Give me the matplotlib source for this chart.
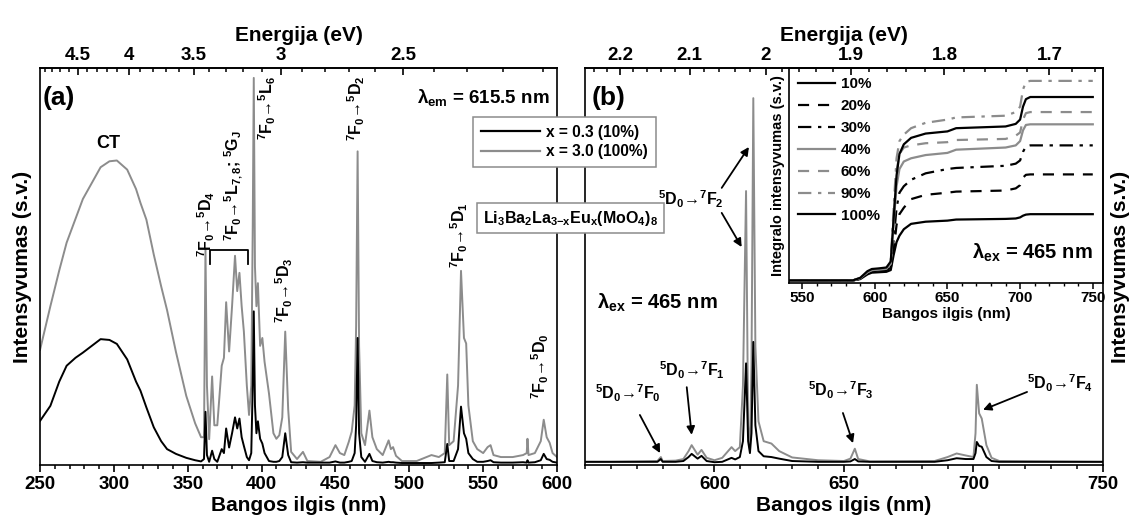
import numpy as np
import matplotlib
matplotlib.use('Agg')
import matplotlib.pyplot as plt
from matplotlib.ticker import FixedLocator, MultipleLocator, FuncFormatter
from matplotlib.lines import Line2D

plt.rcParams['font.family'] = ['Liberation Sans', 'DejaVu Sans']
plt.rcParams['font.weight'] = 'bold'
plt.rcParams['axes.labelweight'] = 'bold'
plt.rcParams['mathtext.fontset'] = 'custom'
plt.rcParams['mathtext.rm'] = 'Liberation Sans:bold'
plt.rcParams['mathtext.bf'] = 'Liberation Sans:bold'
plt.rcParams['mathtext.it'] = 'Liberation Sans:bold'
plt.rcParams['mathtext.default'] = 'bf'

GRAY = '#8c8c8c'

# --- (a) excitation spectra, lambda_em = 615.5 nm ---
wl_exc = [250, 257, 263, 268, 274, 279, 285, 291, 297, 302, 309, 315, 318, 322, 327,
          332, 336, 342, 349, 355, 359, 361, 362, 363, 364.5, 366.5, 368, 370, 373,
          374.5, 376, 378, 380, 382, 383.5, 385, 386.5, 388, 390, 391.5, 393, 394,
          394.7, 395.5, 396.5, 397.5, 399, 400.5, 402, 405, 408, 410, 412, 414, 416,
          418, 420, 424, 428, 431, 440, 446, 450, 453, 456, 459, 461, 463, 464, 465,
          466, 467.5, 470, 473, 475, 478, 482, 486, 487.5, 489, 491, 495, 505, 515,
          520, 524, 525.7, 527, 530, 533, 535, 537, 538.5, 540, 543, 546, 550, 553,
          555, 557, 562, 570, 577, 579.5, 580, 580.7, 585, 589, 591, 593, 595, 597, 600]
exc_10 = [11.1, 14.9, 21, 25, 27, 28.3, 30, 31.7, 31.5, 30.5, 26.6, 21, 18.7, 14.5, 9.5,
          6, 4, 2.8, 1.8, 1.2, 0.9, 1.5, 13.4, 2.5, 0.8, 3.6, 1.5, 0.8, 4,
          3, 9.2, 4.4, 8, 12, 9.2, 11.7, 7, 4.8, 2, 1.2, 3, 20,
          38.7, 15, 8, 11, 6.6, 5.4, 3, 1, 0.8, 0.8, 1, 2, 8,
          2.5, 0.7, 0.6, 0.7, 0.6, 0.6, 0.6, 0.9, 0.6, 0.6, 0.8, 1, 3, 10, 32,
          8, 2, 0.8, 2.8, 1, 0.7, 0.6, 0.8, 0.7, 0.7, 0.6, 0.5, 0.5, 0.5,
          0.6, 0.7, 5.3, 1, 1, 4, 14.7, 8, 6.6, 3, 1.5, 0.8, 0.8, 1,
          1.2, 0.7, 0.6, 0.6, 0.7, 0.6, 1.2, 0.6, 0.7, 1.2, 2.8, 1.5, 1.3, 0.8, 0.6]
exc_100 = [29, 40, 49, 56, 62, 67, 71, 75, 76.5, 76.7, 74.4, 69.5, 66, 61.8, 53,
           45, 39, 28.5, 17.4, 10.5, 7, 7, 54.4, 20, 6.5, 22.3, 10, 10, 25,
           27, 41, 28.6, 40, 52.7, 43.8, 48.4, 40, 33.6, 20, 12.6, 20, 60,
           97.5, 50, 40, 45.8, 30, 32, 26, 18, 8, 6.6, 7.5, 12, 33.6,
           14, 3.3, 1.5, 3.3, 1, 0.8, 2, 5, 3, 2.5, 5.8, 8.4, 15, 35, 79,
           30, 8, 5, 13.7, 7, 4, 2.5, 6.2, 4, 4.5, 2.3, 1, 1, 2.5,
           2, 3, 22.8, 5, 6, 20, 48.9, 32, 30.6, 15, 6, 4, 3, 4.5,
           5, 2.5, 2, 2, 2.5, 3, 6.6, 2.5, 3, 6, 11.4, 7, 5.6, 3, 2]

# --- (b) emission spectra, lambda_ex = 465 nm ---
wl_em = [550, 560, 570, 578, 579.3, 580, 585, 588, 590, 591.2, 593.5, 595, 597, 600,
         603, 606.6, 608, 609.8, 611, 612.2, 613, 613.7, 614.3, 615, 615.8, 617, 619,
         622, 625, 630, 640, 650, 652.5, 654.2, 655.5, 660, 685, 690, 693.5, 697, 700,
         700.8, 701.3, 702.2, 703.2, 705, 707, 710, 750]
em_10 = [0.8, 0.8, 0.8, 0.8, 1.5, 0.8, 0.8, 1, 2, 2.8, 1.6, 2.3, 1, 0.7,
         0.8, 1.8, 1.4, 2, 6, 25.6, 6, 3, 8, 31, 10, 3.5, 2.2,
         2, 1.6, 1, 0.8, 0.8, 0.9, 1.5, 0.9, 0.8, 0.8, 1.2, 1.7, 1.5, 1.5,
         3, 5.8, 4.8, 4.6, 2, 1, 0.8, 0.8]
em_100 = [0.8, 0.8, 0.9, 1, 2, 1, 1.1, 1.5, 3.5, 5, 2.6, 3.8, 1.8, 1.2,
          1.8, 4.5, 3.5, 4.5, 20, 69, 10, 4, 25, 92.4, 30, 11, 6,
          5.4, 3.5, 1.9, 1.2, 1, 1.6, 4.1, 1.5, 0.9, 1, 2, 2.9, 2.4, 2,
          8, 20.2, 13, 11.7, 5, 1.8, 1, 0.8]

# --- inset: integrated intensity ---
wl_int = [540, 585, 590, 595, 598, 603, 608, 611, 613, 615, 617, 620, 625, 635, 650,
          656, 690, 697, 700, 702, 704, 707, 750]
int_labels = ['10%', '20%', '30%', '40%', '60%', '90%', '100%']
int_10 = [0.012, 0.012, 0.018, 0.04, 0.048, 0.05, 0.052, 0.06, 0.13, 0.19, 0.22, 0.25,
          0.275, 0.285, 0.29, 0.295, 0.298, 0.30, 0.305, 0.313, 0.318, 0.32, 0.32]
int_20 = [0.012, 0.012, 0.02, 0.045, 0.055, 0.057, 0.06, 0.07, 0.15, 0.27, 0.32, 0.35,
          0.39, 0.41, 0.42, 0.425, 0.43, 0.44, 0.455, 0.49, 0.503, 0.505, 0.505]
int_30 = [0.012, 0.012, 0.02, 0.045, 0.055, 0.058, 0.062, 0.075, 0.2, 0.35, 0.42, 0.45,
          0.48, 0.51, 0.53, 0.535, 0.545, 0.555, 0.57, 0.61, 0.635, 0.64, 0.64]
int_40 = [0.012, 0.012, 0.022, 0.05, 0.06, 0.062, 0.066, 0.09, 0.28, 0.45, 0.53, 0.565,
          0.58, 0.595, 0.605, 0.62, 0.63, 0.64, 0.66, 0.71, 0.735, 0.738, 0.738]
int_60 = [0.012, 0.012, 0.022, 0.05, 0.06, 0.063, 0.068, 0.09, 0.3, 0.52, 0.6, 0.63,
          0.64, 0.65, 0.655, 0.665, 0.67, 0.685, 0.7, 0.76, 0.79, 0.795, 0.795]
int_90 = [0.012, 0.012, 0.024, 0.052, 0.062, 0.065, 0.07, 0.1, 0.35, 0.58, 0.66, 0.69,
          0.72, 0.745, 0.76, 0.77, 0.778, 0.795, 0.82, 0.9, 0.935, 0.94, 0.94]
int_100 = [0.012, 0.012, 0.024, 0.055, 0.065, 0.068, 0.072, 0.1, 0.3, 0.5, 0.6, 0.645,
           0.675, 0.695, 0.705, 0.72, 0.728, 0.74, 0.76, 0.82, 0.855, 0.865, 0.865]

HC = 1239.84


def nm_ev(x):
    x = np.asarray(x, dtype=float)
    with np.errstate(divide='ignore', invalid='ignore'):
        return HC / x


def style_axes(ax):
    for s in ax.spines.values():
        s.set_linewidth(1.2)
    ax.set_yticks([])
    ax.xaxis.set_minor_locator(MultipleLocator(10))
    ax.tick_params(axis='x', which='major', direction='out', length=5, width=1.2,
                   labelsize=13.5, pad=3)
    ax.tick_params(axis='x', which='minor', direction='out', length=3, width=1.1)
    ax.set_ylim(0, 100)


def energy_axis(ax, major, minor):
    sec = ax.secondary_xaxis('top', functions=(nm_ev, nm_ev))
    sec.set_xticks(major)
    sec.xaxis.set_minor_locator(FixedLocator(minor))
    sec.xaxis.set_major_formatter(FuncFormatter(lambda v, p: '%g' % v))
    sec.tick_params(which='major', direction='in', length=5, width=1.2, labelsize=13.5, pad=3)
    sec.tick_params(which='minor', direction='in', length=3, width=1.1)
    sec.spines['top'].set_linewidth(1.2)
    sec.set_xlabel('Energija (eV)', fontsize=15, labelpad=4)
    return sec


fig = plt.figure(figsize=(11.31, 5.25), dpi=100)
ax1 = fig.add_axes([0.0354, 0.1143, 0.4571, 0.7562])
ax2 = fig.add_axes([0.5172, 0.1143, 0.458, 0.7562])

# panel (a)
ax1.plot(wl_exc, exc_100, color=GRAY, lw=1.4)
ax1.plot(wl_exc, exc_10, color='k', lw=1.4)
ax1.set_xlim(250, 600)
style_axes(ax1)
ax1.xaxis.set_major_locator(MultipleLocator(50))
ax1.set_xlabel('Bangos ilgis (nm)', fontsize=15, labelpad=2)
ax1.set_ylabel('Intensyvumas (s.v.)', fontsize=15, labelpad=6)
energy_axis(ax1, [4.5, 4, 3.5, 3, 2.5], np.arange(2.1, 5.0, 0.1))

ax1.text(252, 92.5, '(a)', fontsize=19, ha='left', va='center')
ax1.text(595, 92.5, r'λ$_{em}$ = 615.5 nm', fontsize=13.5, ha='right', va='center')
ax1.text(296, 81, 'CT', fontsize=13, ha='center', va='center')
fa = 11.5
ax1.text(362.5, 60.7, r'$^7$F$_0$→$^5$D$_4$', rotation=90, fontsize=fa,
         ha='center', va='center')
ax1.text(381, 70.3, r'$^7$F$_0$→$^5$L$_{7,8}$; $^5$G$_J$', rotation=90,
         fontsize=fa, ha='center', va='center')
ax1.plot([365, 365, 390.7, 390.7], [50.6, 54.2, 54.2, 50.6], color='k', lw=1.3)
ax1.text(404, 90, r'$^7$F$_0$→$^5$L$_6$', rotation=90, fontsize=fa,
         ha='center', va='center')
ax1.text(415.5, 44, r'$^7$F$_0$→$^5$D$_3$', rotation=90, fontsize=fa,
         ha='center', va='center')
ax1.text(464.2, 90, r'$^7$F$_0$→$^5$D$_2$', rotation=90, fontsize=fa,
         ha='center', va='center')
ax1.text(534, 58, r'$^7$F$_0$→$^5$D$_1$', rotation=90, fontsize=fa,
         ha='center', va='center')
ax1.text(588.5, 25, r'$^7$F$_0$→$^5$D$_0$', rotation=90, fontsize=fa,
         ha='center', va='center')

# panel (b)
ax2.plot(wl_em, em_100, color=GRAY, lw=1.4)
ax2.plot(wl_em, em_10, color='k', lw=1.4)
ax2.set_xlim(550, 750)
style_axes(ax2)
ax2.xaxis.set_major_locator(FixedLocator([600, 650, 700, 750]))
ax2.set_xlabel('Bangos ilgis (nm)', fontsize=15, labelpad=2)
ax2.yaxis.set_label_position('right')
ax2.set_ylabel('Intensyvumas (s.v.)', fontsize=15, labelpad=6)
energy_axis(ax2, [2.2, 2.1, 2, 1.9, 1.8, 1.7], np.arange(1.66, 2.27, 0.02))

ax2.text(552.7, 92.5, '(b)', fontsize=19, ha='left', va='center')
ax2.text(554.6, 40.8, r'λ$_{ex}$ = 465 nm', fontsize=14.5, ha='left', va='center')

arr = dict(arrowstyle='-|>', color='k', lw=1.3, mutation_scale=12, shrinkA=0, shrinkB=0)
fb = 11.5
ax2.text(591, 66.8, r'$^5$D$_0$→$^7$F$_2$', fontsize=fb, ha='center', va='center')
ax2.annotate('', xy=(613.3, 80.1), xytext=(602.8, 69.8), arrowprops=arr)
ax2.annotate('', xy=(610.5, 54.9), xytext=(602.8, 63.5), arrowprops=arr)
ax2.text(566.6, 18.1, r'$^5$D$_0$→$^7$F$_0$', fontsize=fb, ha='center', va='center')
ax2.annotate('', xy=(579, 3), xytext=(571.2, 12.6), arrowprops=arr)
ax2.text(591.3, 23.9, r'$^5$D$_0$→$^7$F$_1$', fontsize=fb, ha='center', va='center')
ax2.annotate('', xy=(591.2, 7.6), xytext=(589.3, 19.6), arrowprops=arr)
ax2.text(648.8, 18.9, r'$^5$D$_0$→$^7$F$_3$', fontsize=fb, ha='center', va='center')
ax2.annotate('', xy=(653.5, 5.5), xytext=(649.6, 13.1), arrowprops=arr)
ax2.text(733.4, 20.7, r'$^5$D$_0$→$^7$F$_4$', fontsize=fb, ha='center', va='center')
ax2.annotate('', xy=(703.7, 13.9), xytext=(720.7, 18.4), arrowprops=arr)

# inset
axin = fig.add_axes([0.6976, 0.461, 0.2776, 0.4095])
axin.set_facecolor('none')
styles = [('k', '-'), ('k', (0, (5, 4))), ('k', (0, (6, 3, 1.5, 3))),
          (GRAY, '-'), (GRAY, (0, (5, 4))), (GRAY, (0, (6, 3, 1.5, 3))), ('k', '-')]
for vals, lab, (c, ls) in zip([int_10, int_20, int_30, int_40, int_60, int_90, int_100],
                              int_labels, styles):
    axin.plot(wl_int, vals, color=c, ls=ls, lw=1.6, label=lab)
axin.set_xlim(541, 757)
axin.set_ylim(0, 1)
axin.set_yticks([])
axin.xaxis.set_major_locator(MultipleLocator(50))
axin.xaxis.set_minor_locator(MultipleLocator(10))
axin.tick_params(axis='x', which='major', direction='out', length=4, width=1.1,
                 labelsize=11, pad=2)
axin.tick_params(axis='x', which='minor', direction='out', length=2.5, width=1)
for s in axin.spines.values():
    s.set_linewidth(1.2)
axin.set_xlabel('Bangos ilgis (nm)', fontsize=11, labelpad=1)
axin.set_ylabel('Integralo intensyvumas (s.v.)', fontsize=10.5, labelpad=3)
axin.legend(loc='upper left', frameon=False, fontsize=11, handlelength=2.4,
            labelspacing=0.52, borderaxespad=0.2, handletextpad=0.4)
axin.text(0.968, 0.14, r'λ$_{ex}$ = 465 nm', transform=axin.transAxes, fontsize=14.5,
          ha='right', va='center')

# shared legend and formula box
handles = [Line2D([], [], color='k', lw=1.6), Line2D([], [], color=GRAY, lw=1.6)]
leg = fig.legend(handles, ['x = 0.3 (10%)', 'x = 3.0 (100%)'], loc='upper left',
                 bbox_to_anchor=(473 / 1131, 1 - 117 / 525), fontsize=11.2,
                 handlelength=3.8, frameon=True, fancybox=False, edgecolor=GRAY,
                 framealpha=1, borderaxespad=0, labelspacing=0.3, borderpad=0.5,
                 handletextpad=0.4)
leg.get_frame().set_linewidth(1.1)
leg.set_zorder(20)
fig.text(483 / 1131, 1 - 218 / 525, r'Li$_3$Ba$_2$La$_{3{-}x}$Eu$_x$(MoO$_4$)$_8$',
         fontsize=11.5, ha='left', va='center', zorder=20,
         bbox=dict(boxstyle='square,pad=0.35', fc='white', ec=GRAY, lw=1.1))

fig.savefig('out.png', dpi=100)
